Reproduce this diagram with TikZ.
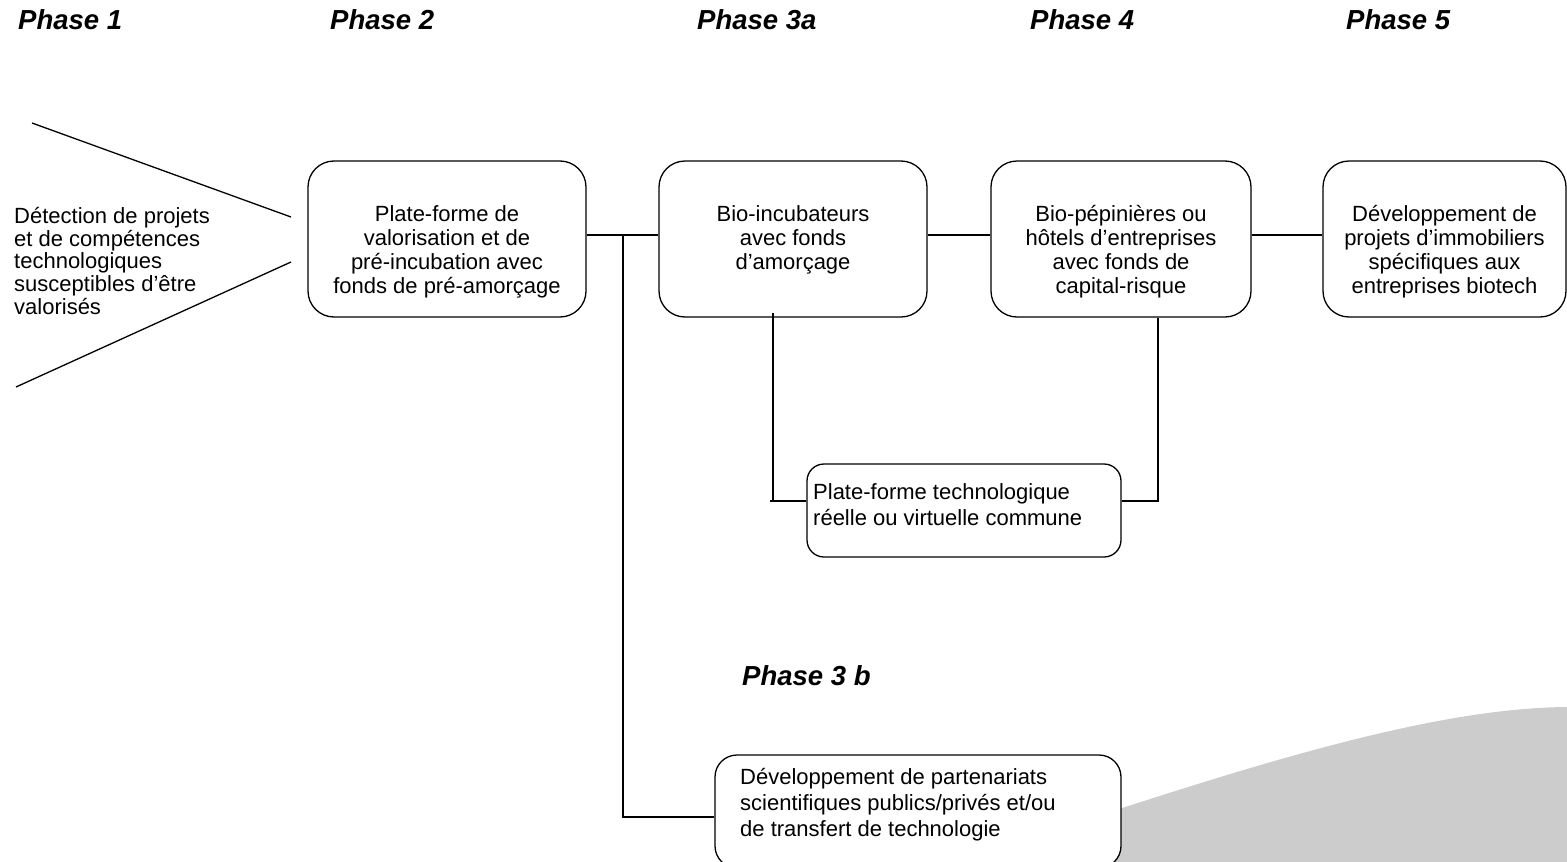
\documentclass[tikz,border=0pt]{standalone}
\usepackage{fontspec}
\setmainfont{Liberation Sans}
\definecolor{greyfill}{HTML}{CCCCCC}
\begin{document}
\begin{tikzpicture}[x=1pt,y=-1pt,
  box/.style={draw, line width=1.3pt, rounded corners=26pt, fill=white, inner sep=0pt},
  smallbox/.style={box, rounded corners=17pt},
  boxtext/.style={anchor=north, align=center, inner sep=0pt, font=\fontsize{22}{24}\selectfont},
  lefttext/.style={anchor=north west, align=left, inner sep=0pt, font=\fontsize{22}{26}\selectfont},
  phase/.style={anchor=base west, inner sep=0pt, font=\fontsize{27.5}{30}\selectfont\bfseries\itshape},
  link/.style={line width=1.3pt}]
\useasboundingbox (0,0) rectangle (1567,862);

% grey shape
\fill[greyfill] (1110,812) .. controls (1300,750) and (1450,708) .. (1567,707) -- (1567,900) -- (1110,900) -- cycle;

% phase labels
\node[phase] (p1) at (18,30) {Phase 1};
\node[phase] (p2) at (330,30) {Phase 2};
\node[phase] (p3) at (697,30) {Phase 3a};
\node[phase] (p4) at (1030,30) {Phase 4};
\node[phase] (p5) at (1346,30) {Phase 5};
\node[phase] (p3b) at (742,685) {Phase 3 b};

% funnel
\coordinate (f1) at (32,123);
\coordinate (f2) at (291,217);
\coordinate (f3) at (291,262);
\coordinate (f4) at (16,387);
\draw[link] (f1) -- (f2);
\draw[link] (f3) -- (f4);
\node[anchor=north west, align=left, inner sep=0pt, font=\fontsize{22}{22.7}\selectfont] (t1) at (14,207)
  {Détection de projets\\et de compétences\\technologiques\\susceptibles d’être\\valorisés};

% boxes
\node[box, minimum width=278pt, minimum height=156pt] (b2) at (447,239) {};
\node[box, minimum width=268pt, minimum height=156pt] (b3) at (793,239) {};
\node[box, minimum width=260pt, minimum height=156pt] (b4) at (1121,239) {};
\node[box, minimum width=243pt, minimum height=156pt] (b5) at (1444.5,239) {};
\node[smallbox, minimum width=314pt, minimum height=93pt] (bp) at (964,510.5) {};
\node[box, rounded corners=22pt, minimum width=406pt, minimum height=113pt] (bb) at (918,811.5) {};

% box texts
\node[boxtext] (t2) at (447,205) {Plate-forme de\\valorisation et de\\pré-incubation avec\\fonds de pré-amorçage};
\node[boxtext] (t3) at (793,205) {Bio-incubateurs\\avec fonds\\d’amorçage};
\node[boxtext] (t4) at (1121,205) {Bio-pépinières ou\\hôtels d’entreprises\\avec fonds de\\capital-risque};
\node[boxtext] (t5) at (1444.5,205) {Développement de\\projets d’immobiliers\\spécifiques aux\\entreprises biotech};
\node[lefttext] (tp) at (813,483) {Plate-forme technologique\\réelle ou virtuelle commune};
\node[lefttext] (tb) at (740,768) {Développement de partenariats\\scientifiques publics/privés et/ou\\de transfert de technologie};

% connectors
\draw[link] ([yshift=4pt]b2.east) -- ([yshift=4pt]b3.west);
\draw[link] ([yshift=4pt]b3.east) -- ([yshift=4pt]b4.west);
\draw[link] ([yshift=4pt]b4.east) -- ([yshift=4pt]b5.west);
\coordinate (j) at (623,235);
\draw[link] (j) |- ([yshift=-5.5pt]bb.west);
\coordinate (c1) at (773,313);
\coordinate (c2) at (770,501);
\draw[link] (c1) -- (c1 |- c2);
\draw[link] (c2) -- ([yshift=9.5pt]bp.west);
\draw[link] ([xshift=37pt]b4.south) |- ([yshift=9.5pt]bp.east);
\end{tikzpicture}
\end{document}
